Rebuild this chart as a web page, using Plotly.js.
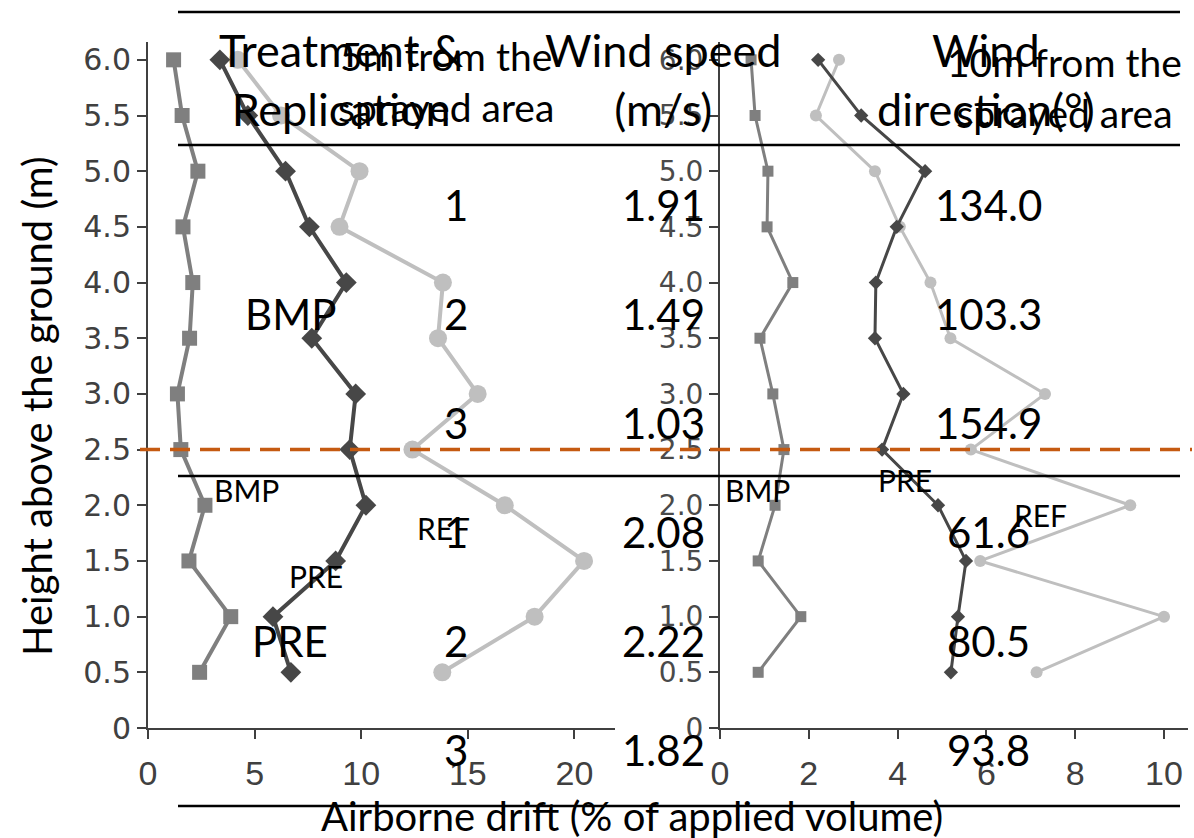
<!DOCTYPE html>
<html>
<head>
<meta charset="utf-8">
<script src="https://cdn.plot.ly/plotly-3.0.1.min.js"></script>
<style>html,body{margin:0;padding:0;background:#fff;}#chart{width:1194px;height:838px;}</style>
</head>
<body>
<div id="chart"></div>
<script>
// ---- data ----
const heights = [0.5, 1.0, 1.5, 2.0, 2.5, 3.0, 3.5, 4.0, 4.5, 5.0, 5.5, 6.0];
const heightTicks = [0, 0.5, 1.0, 1.5, 2.0, 2.5, 3.0, 3.5, 4.0, 4.5, 5.0, 5.5, 6.0];
const heightTickLabels = ["0", "0.5", "1.0", "1.5", "2.0", "2.5", "3.0", "3.5", "4.0", "4.5", "5.0", "5.5", "6.0"];
// 5 m from the sprayed area (left panel)
const bmp5m = [2.42, 3.88, 1.92, 2.67, 1.54, 1.38, 1.95, 2.1, 1.64, 2.34, 1.6, 1.2];
const pre5m = [6.70, 5.86, 8.80, 10.22, 9.46, 9.74, 7.68, 9.30, 7.57, 6.45, 4.68, 3.37];
const ref5m = [13.8, 18.13, 20.45, 16.73, 12.4, 15.46, 13.6, 13.83, 8.98, 9.92, 6.24, 4.21];
// 10 m from the sprayed area (right panel)
const bmp10m = [0.86, 1.82, 0.86, 1.24, 1.44, 1.19, 0.90, 1.64, 1.06, 1.08, 0.79, 0.70];
const pre10m = [5.20, 5.36, 5.54, 4.91, 3.65, 4.13, 3.49, 3.51, 3.98, 4.62, 3.18, 2.21];
const ref10m = [7.13, 10.0, 5.86, 9.24, 5.65, 7.32, 5.19, 4.74, 4.05, 3.49, 2.16, 2.68];
const seriesNames = ["BMP", "PRE", "REF"];
const xTicksLeft = [0, 5, 10, 15, 20];
const xTicksRight = [0, 2, 4, 6, 8, 10];
// table
const tableHeaders = ["Treatment &<br>Replication", "Wind speed<br>(m/s)", "Wind<br>direction(°)"];
const treatments = ["BMP", "PRE"];
const replications = ["1", "2", "3"];
const windSpeed = ["1.91", "1.49", "1.03", "2.08", "2.22", "1.82"];
const windDirection = ["134.0", "103.3", "154.9", "61.6", "80.5", "93.8"];
const panelLabels = ["5m from the<br>sprayed area", "10m from the<br>sprayed area"];
const xTitle = "Airborne drift (% of applied volume)";
const yTitle = "Height above the ground (m)";
const referenceHeight = 2.5;

// ---- layout helpers ----
const W = 1194, H = 838;
const M = {l: 148, r: 6, t: 42, b: 110};
const PW = W - M.l - M.r, PH = H - M.t - M.b;
const fx = p => (p - M.l) / PW;
const fy = p => (H - M.b - p) / PH;

const cSq = "#7f7f7f", cDi = "#474747", cCi = "#bfbfbf";
const numFamily = "Liberation Sans, Arial, sans-serif";
const wideNum = "DejaVu Sans, Liberation Sans, sans-serif";
const calFont = "Lato, Carlito, Calibri, sans-serif";

function tr(x, y, color, symbol, msize, lw, xa, ya) {
  return {x: x, y: y, xaxis: xa, yaxis: ya, type: "scatter", mode: "lines+markers",
    line: {color: color, width: lw}, marker: {color: color, symbol: symbol, size: msize},
    showlegend: false, hoverinfo: "skip", cliponaxis: false};
}
const data = [
  tr(bmp5m, heights, cSq, "square", 15, 4, "x", "y"),
  tr(ref5m, heights, cCi, "circle", 18, 4, "x", "y"),
  tr(pre5m, heights, cDi, "diamond", 16, 4, "x", "y"),
  tr(bmp10m, heights, cSq, "square", 11, 3, "x2", "y2"),
  tr(ref10m, heights, cCi, "circle", 12, 3, "x2", "y2"),
  tr(pre10m, heights, cDi, "diamond", 11, 3, "x2", "y2")
];

const axisCommon = {showgrid: false, zeroline: false, showline: true, linecolor: "#404040", linewidth: 2,
  ticks: "outside", ticklen: 9, tickwidth: 2, tickcolor: "#404040",
  tickfont: {family: numFamily, size: 34, color: "#404040"}, fixedrange: true};
const yRange = [0, 6.16];
const layout = {
  width: W, height: H, margin: M, paper_bgcolor: "#fff", plot_bgcolor: "rgba(0,0,0,0)",
  showlegend: false,
  xaxis: Object.assign({}, axisCommon, {domain: [0, fx(615)], range: [0, 21.9], tickvals: xTicksLeft, anchor: "y", ticklabelstandoff: 5}),
  yaxis: Object.assign({}, axisCommon, {domain: [0, 1], range: yRange, tickvals: heightTicks, ticktext: heightTickLabels, anchor: "x",
    tickfont: {family: wideNum, size: 30, color: "#404040"}}),
  xaxis2: Object.assign({}, axisCommon, {domain: [fx(720), 1], range: [0, 10.54], tickvals: xTicksRight, anchor: "y2", ticklabelstandoff: 5}),
  yaxis2: Object.assign({}, axisCommon, {domain: [0, 1], range: yRange, tickvals: heightTicks, ticktext: heightTickLabels, anchor: "x2",
    tickfont: {family: wideNum, size: 28, color: "#4a4a4a"}}),
  shapes: [], annotations: []
};

// table rules
[12, 145, 476, 806].forEach(py => layout.shapes.push({type: "line", xref: "paper", yref: "paper",
  x0: fx(178), x1: fx(1180), y0: fy(py), y1: fy(py), line: {color: "#000", width: 2.5}, layer: "above"}));
// reference height dashed line
layout.shapes.push({type: "line", xref: "paper", yref: "y", x0: fx(140), x1: fx(1192), y0: referenceHeight, y1: referenceHeight,
  line: {color: "#c55a11", width: 3.5, dash: "20px,10px"}, layer: "above"});

function ann(text, px, py, size, extra) {
  layout.annotations.push(Object.assign({text: text, xref: "paper", yref: "paper", x: fx(px), y: fy(py),
    xanchor: "center", yanchor: "middle", showarrow: false, font: {family: calFont, size: size, color: "#000"}}, extra || {}));
}
// axis titles
ann(xTitle, 632, 816, 40);
ann(yTitle, 37, 406, 40, {textangle: -90});
// headers
const headerX = [341, 663, 986];
tableHeaders.forEach((t, i) => ann(t, headerX[i], 80, 45));
ann(panelLabels[0], 446, 82, 39);
ann(panelLabels[1], 1064, 87, 39);
// body rows
const rowY0 = 205, rowStep = 109;
treatments.forEach((t, k) => ann(t, 290, rowY0 + rowStep * (3 * k + 1), 42));
for (let i = 0; i < 6; i++) {
  const py = rowY0 + rowStep * i;
  ann(replications[i % 3], 456, py, 42);
  ann(windSpeed[i], 663, py, 42);
  ann(windDirection[i], 988, py, 42);
}
// series labels
const lblLeft = [[246, 490], [316, 576], [443, 528]];
const lblRight = [[757, 490], [905, 480], [1040, 515]];
seriesNames.forEach((s, i) => {
  ann(s, lblLeft[i][0], lblLeft[i][1], 30);
  ann(s, lblRight[i][0], lblRight[i][1], 30);
});

Plotly.newPlot("chart", data, layout, {displayModeBar: false, staticPlot: true});
</script>
</body>
</html>
